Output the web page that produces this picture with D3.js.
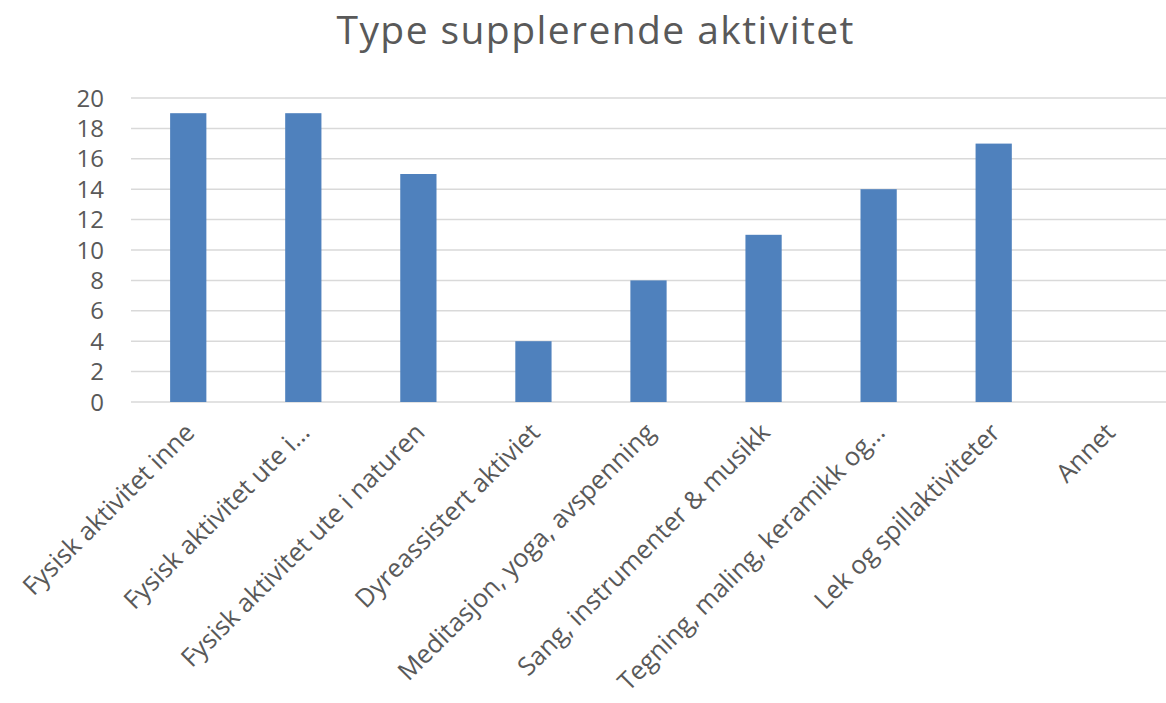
<!DOCTYPE html>
<html>
  <head>
    <meta charset="utf-8" />
    <title>Type supplerende aktivitet</title>
    <script src="https://d3js.org/d3.v7.min.js"></script>
    <style>
        body {margin: 0; background: #fff;}
        text {font-family: "Open Sans", "Noto Sans", sans-serif; fill: #595959;}
    </style>
  </head>
  <body>

    <svg id="chart" width="1166" height="703"></svg>

    <script>

        var categories = [
            "Fysisk aktivitet inne",
            "Fysisk aktivitet ute i…",
            "Fysisk aktivitet ute i naturen",
            "Dyreassistert aktiviet",
            "Meditasjon, yoga, avspenning",
            "Sang, instrumenter & musikk",
            "Tegning, maling, keramikk og…",
            "Lek og spillaktiviteter",
            "Annet"
        ];
        var values = [19, 19, 15, 4, 8, 11, 14, 17, 0];
        var yTicks = [0, 2, 4, 6, 8, 10, 12, 14, 16, 18, 20];

        var svg = d3.select("#chart");

        var x = d3.scaleBand()
                  .domain(categories)
                  .range([131, 1166])
                  .paddingInner(0.685)
                  .paddingOuter(0.34);

        var y = d3.scaleLinear()
                  .domain([0, 20])
                  .range([402, 98]);

        // title
        svg.append("text")
           .attr("x", 595)
           .attr("y", 44)
           .attr("text-anchor", "middle")
           .attr("textLength", 517)
           .style("font-size", "39px")
           .text("Type supplerende aktivitet");

        // gridlines
        svg.append("g")
           .selectAll("line")
           .data(yTicks)
           .enter().append("line")
           .attr("x1", 131)
           .attr("x2", 1166)
           .attr("y1", function(d){ return y(d); })
           .attr("y2", function(d){ return y(d); })
           .attr("stroke", "#d9d9d9")
           .attr("stroke-width", 1.5);

        // y labels
        svg.append("g")
           .selectAll("text")
           .data(yTicks)
           .enter().append("text")
           .attr("x", 104)
           .attr("y", function(d){ return y(d); })
           .attr("dy", "0.36em")
           .attr("text-anchor", "end")
           .style("font-size", "24px")
           .text(function(d){ return d; });

        // bars
        svg.append("g")
           .selectAll("rect")
           .data(values)
           .enter().append("rect")
           .attr("x", function(d, i){ return x(categories[i]); })
           .attr("width", x.bandwidth())
           .attr("y", function(d){ return y(d); })
           .attr("height", function(d){ return y(0) - y(d); })
           .attr("fill", "#4f81bd");

        // category labels
        svg.append("g")
           .selectAll("text")
           .data(categories)
           .enter().append("text")
           .attr("transform", function(d){
               var cx = x(d) + x.bandwidth() / 2 + 8;
               return "translate(" + cx + ",434) rotate(-45)";
           })
           .attr("text-anchor", "end")
           .style("font-size", "25.5px")
           .text(function(d){ return d; });

    </script>

  </body>
</html>
